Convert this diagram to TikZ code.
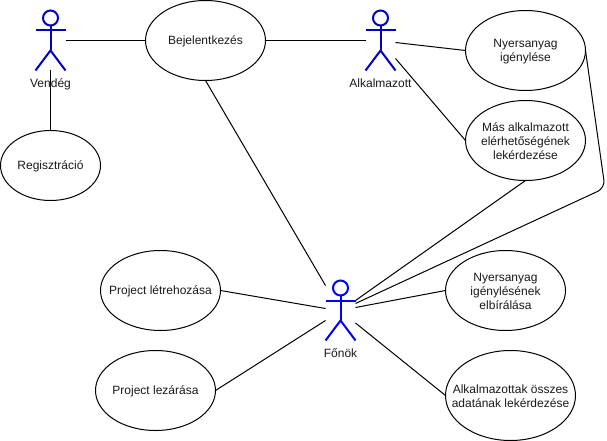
\documentclass[tikz,border=0pt]{standalone}
\usepackage{fontspec}
\setmainfont{Liberation Sans}
\usetikzlibrary{positioning}
\usetikzlibrary{shapes.geometric}
\definecolor{mactor}{rgb}{0, 0, 0.8}
\definecolor{mboss}{rgb}{0, 0, 1}
\definecolor{mtext}{rgb}{0.1, 0.1, 0.1}
\tikzset{usecase/.style = {draw, ellipse, inner sep = 0, outer sep = 0, line width = 1}}
\tikzset{casetext/.style = {align = center, font = \fontsize{12}{14}\selectfont, text = mtext, inner sep = 0, yshift = -1pt}}
\tikzset{actorbox/.style = {inner sep = 0, outer sep = 0, minimum width = 30, minimum height = 60}}
\tikzset{actorname/.style = {font = \fontsize{12}{14}\selectfont, text = mtext, inner sep = 0}}
\tikzset{assoc/.style = {line width = 1}}
\tikzset{actorline/.style = {line width = 2}}
\newcommand{\stickman}[2]{
  \begin{scope}[shift={(#1)}]
    \draw [actorline, #2] (0, -22.5) circle (7.5);
    \draw [actorline, #2] (0, -15) -- (0, 10);
    \draw [actorline, #2] (-15, -10) -- (15, -10);
    \draw [actorline, #2] (-15, 30) -- (0, 10) -- (15, 30);
  \end{scope}
}
\begin{document}
\begin{tikzpicture}[x=1pt, y=-1pt]
    \useasboundingbox (0, 0) rectangle (607, 441);

    % use cases
    \node [usecase, minimum width = 120, minimum height = 80, label={[casetext]center:{Bejelentkezés}}] (bejelentkezes) at (205.5, 40.5) {};
    \node [usecase, minimum width = 100, minimum height = 70, label={[casetext]center:{Regisztráció}}] (regisztracio) at (50.5, 165.5) {};
    \node [usecase, minimum width = 120, minimum height = 80, label={[casetext]center:{Nyersanyag\\igénylése}}] (igenyles) at (525.5, 50.5) {};
    \node [usecase, minimum width = 120, minimum height = 80, label={[casetext]center:{Más alkalmazott\\elérhetőségének\\lekérdezése}}] (elerhetoseg) at (525.5, 140.5) {};
    \node [usecase, minimum width = 120, minimum height = 80, label={[casetext]center:{Project létrehozása}}] (letrehozas) at (160.5, 290.5) {};
    \node [usecase, minimum width = 120, minimum height = 80, label={[casetext]center:{Project lezárása}}] (lezaras) at (155.5, 390.5) {};
    \node [usecase, minimum width = 120, minimum height = 80, label={[casetext]center:{Nyersanyag\\igénylésének\\elbírálása}}] (elbiralas) at (505.5, 290.5) {};
    \node [usecase, minimum width = 130, minimum height = 90, label={[casetext]center:{Alkalmazottak összes\\adatának lekérdezése}}] (adatok) at (510.5, 395.5) {};

    % actors
    \node [actorbox] (vendeg) at (50.5, 40.5) {};
    \node [actorbox] (alkalmazott) at (380.5, 40.5) {};
    \node [actorbox] (fonok) at (340.5, 310.5) {};

    % connectors
    \draw [assoc] (vendeg.east) -- (bejelentkezes.west);
    \draw [assoc] (vendeg.south) -- (regisztracio.north);
    \draw [assoc] (bejelentkezes.east) -- (alkalmazott.west);
    \draw [assoc] (bejelentkezes.south) -- ([yshift=25pt]fonok.west);
    \draw [assoc] ([yshift=-2pt]alkalmazott.east) -- (igenyles.west);
    \draw [assoc] ([yshift=-18pt]alkalmazott.east) -- (elerhetoseg.west);
    \draw [assoc] (elerhetoseg.south) -- ([yshift=10pt]fonok.east);
    \draw [assoc, rounded corners = 8] (igenyles.east) -- (605, 188) -- ([yshift=7pt]fonok.east);
    \draw [assoc] (elbiralas.west) -- ([yshift=3pt]fonok.east);
    \draw [assoc] (adatok.west) -- ([yshift=-12.5pt]fonok.east);
    \draw [assoc] (letrehozas.east) -- ([yshift=2pt]fonok.west);
    \draw [assoc] (lezaras.east) -- ([yshift=-10pt]fonok.west);

    \stickman{vendeg}{mactor}
    \stickman{alkalmazott}{mactor}
    \stickman{fonok}{mboss}

    \node [actorname, below = 8pt of vendeg] (vendegname) {Vendég};
    \node [actorname, below = 8pt of alkalmazott] (alkalmazottname) {Alkalmazott};
    \node [actorname, below = 8pt of fonok] (fonokname) {Főnök};
\end{tikzpicture}
\end{document}
